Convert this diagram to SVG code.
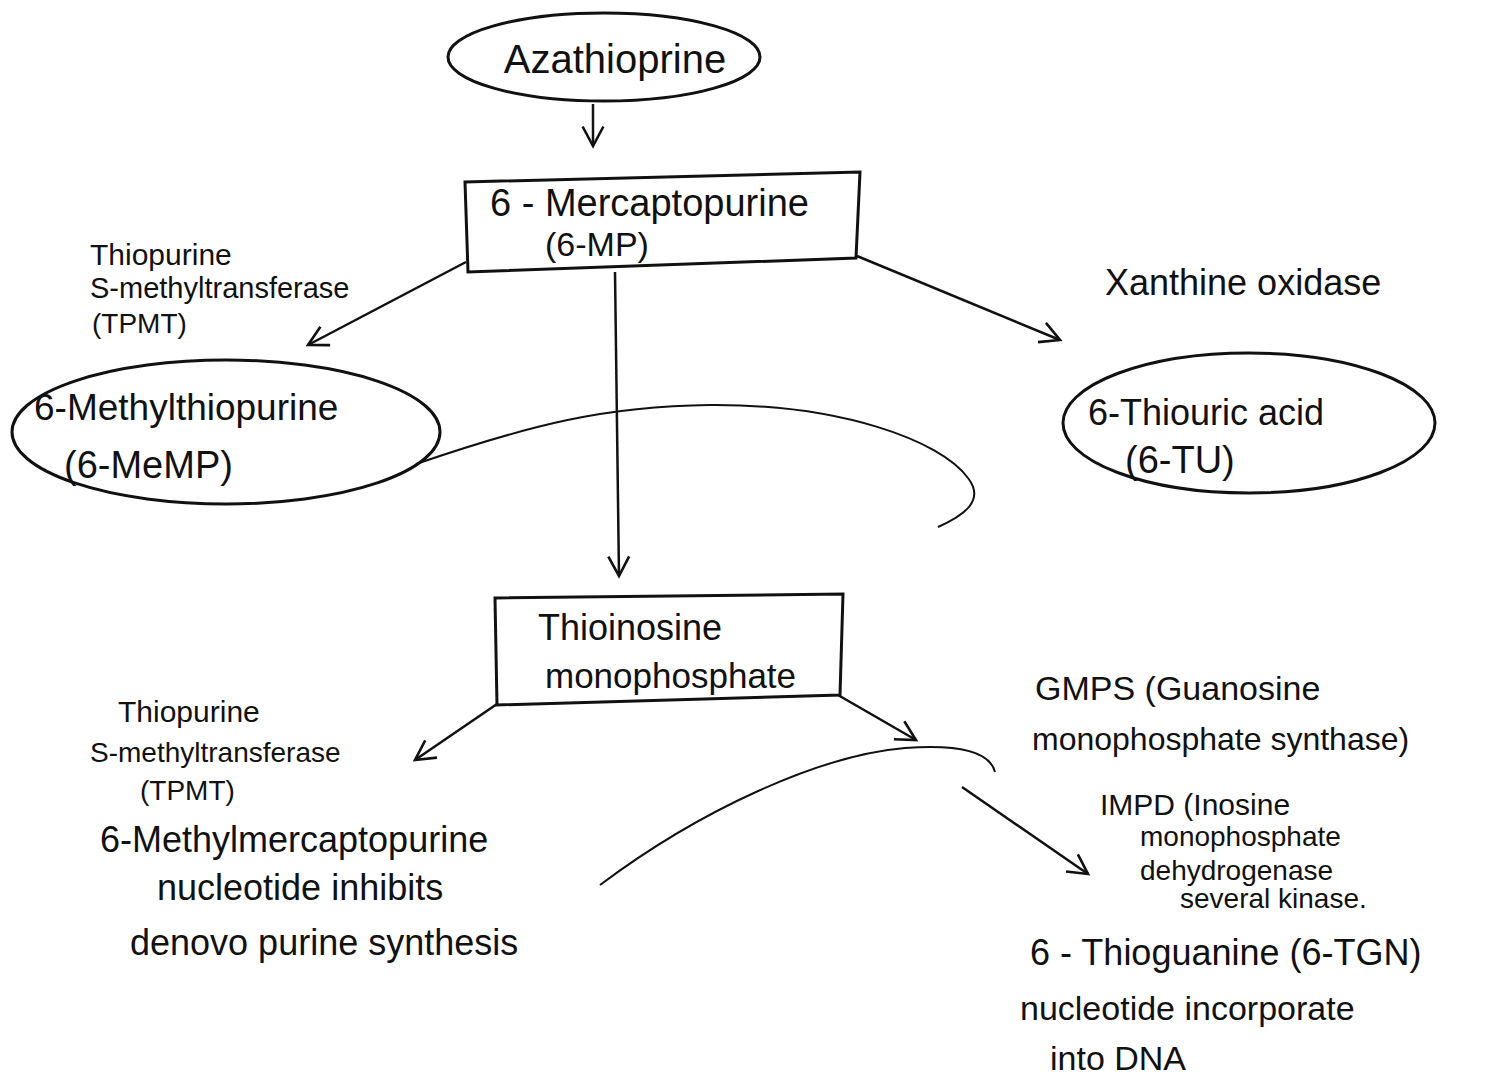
<svg xmlns="http://www.w3.org/2000/svg" width="1503" height="1083" viewBox="0 0 1503 1083">
<style>
text{font-family:"Liberation Sans",Arial,sans-serif;fill:#111}
.shape{fill:none;stroke:#111;stroke-width:3}
.con{fill:none;stroke:#111;stroke-width:2.5}
.arc{fill:none;stroke:#111;stroke-width:2}
</style>
<defs>
<marker id="v" viewBox="0 0 20 20" refX="18" refY="10" markerWidth="26" markerHeight="26" markerUnits="userSpaceOnUse" orient="auto">
<polyline points="3,2 18,10 3,18" fill="none" stroke="#111" stroke-width="2"/>
</marker>
</defs>
<rect width="1503" height="1083" fill="#fff"/>

<g id="azathioprine">
<ellipse cx="604" cy="57" rx="156" ry="44" class="shape"/>
<text x="615" y="73" font-size="40" text-anchor="middle">Azathioprine</text>
</g>

<g id="mp">
<polygon points="465,182 860,172 856,258 468,272" class="shape"/>
<text x="490" y="216" font-size="38">6 - Mercaptopurine</text>
<text x="545" y="256" font-size="34">(6-MP)</text>
</g>

<g id="tpmt1">
<text x="90" y="265" font-size="30">Thiopurine</text>
<text x="90" y="298" font-size="29">S-methyltransferase</text>
<text x="92" y="333" font-size="28">(TPMT)</text>
</g>

<g id="memp">
<ellipse cx="226" cy="432" rx="214" ry="72" class="shape"/>
<text x="34" y="420" font-size="37">6-Methylthiopurine</text>
<text x="64" y="478" font-size="38">(6-MeMP)</text>
</g>

<g id="xo">
<text x="1105" y="295" font-size="36">Xanthine oxidase</text>
</g>

<g id="tu">
<ellipse cx="1249" cy="423" rx="186" ry="70" class="shape"/>
<text x="1088" y="425" font-size="36">6-Thiouric acid</text>
<text x="1125" y="473" font-size="38">(6-TU)</text>
</g>

<g id="timp">
<polygon points="495,598 843,594 840,695 497,705" class="shape"/>
<text x="538" y="640" font-size="36">Thioinosine</text>
<text x="545" y="688" font-size="35">monophosphate</text>
</g>

<g id="tpmt2">
<text x="118" y="722" font-size="30">Thiopurine</text>
<text x="90" y="762" font-size="28">S-methyltransferase</text>
<text x="140" y="800" font-size="28">(TPMT)</text>
</g>

<g id="mmpn">
<text x="100" y="852" font-size="36">6-Methylmercaptopurine</text>
<text x="157" y="900" font-size="36">nucleotide inhibits</text>
<text x="130" y="955" font-size="36">denovo purine synthesis</text>
</g>

<g id="gmps">
<text x="1035" y="700" font-size="34">GMPS (Guanosine</text>
<text x="1032" y="750" font-size="32">monophosphate synthase)</text>
</g>

<g id="impd">
<text x="1100" y="815" font-size="30">IMPD (Inosine</text>
<text x="1140" y="846" font-size="28">monophosphate</text>
<text x="1140" y="880" font-size="28">dehydrogenase</text>
<text x="1180" y="908" font-size="28">several kinase.</text>
</g>

<g id="tgn">
<text x="1030" y="965" font-size="36">6 - Thioguanine (6-TGN)</text>
<text x="1020" y="1020" font-size="34">nucleotide incorporate</text>
<text x="1050" y="1070" font-size="34">into DNA</text>
</g>

<g id="connectors">
<line x1="593" y1="104" x2="593" y2="146" class="con" marker-end="url(#v)"/>
<line x1="466" y1="262" x2="308" y2="345" class="con" marker-end="url(#v)"/>
<line x1="857" y1="256" x2="1060" y2="340" class="con" marker-end="url(#v)"/>
<line x1="615" y1="272" x2="619" y2="576" class="con" marker-end="url(#v)"/>
<line x1="497" y1="704" x2="415" y2="760" class="con" marker-end="url(#v)"/>
<line x1="838" y1="695" x2="916" y2="740" class="con" marker-end="url(#v)"/>
<line x1="962" y1="787" x2="1088" y2="874" class="con" marker-end="url(#v)"/>
<path d="M416,464 C530,425 605,406 710,405 C840,404 940,440 968,478 C985,500 965,515 938,527" class="arc"/>
<path d="M600,885 C700,810 820,755 905,748 C960,744 990,752 995,772" class="arc"/>
</g>
</svg>
